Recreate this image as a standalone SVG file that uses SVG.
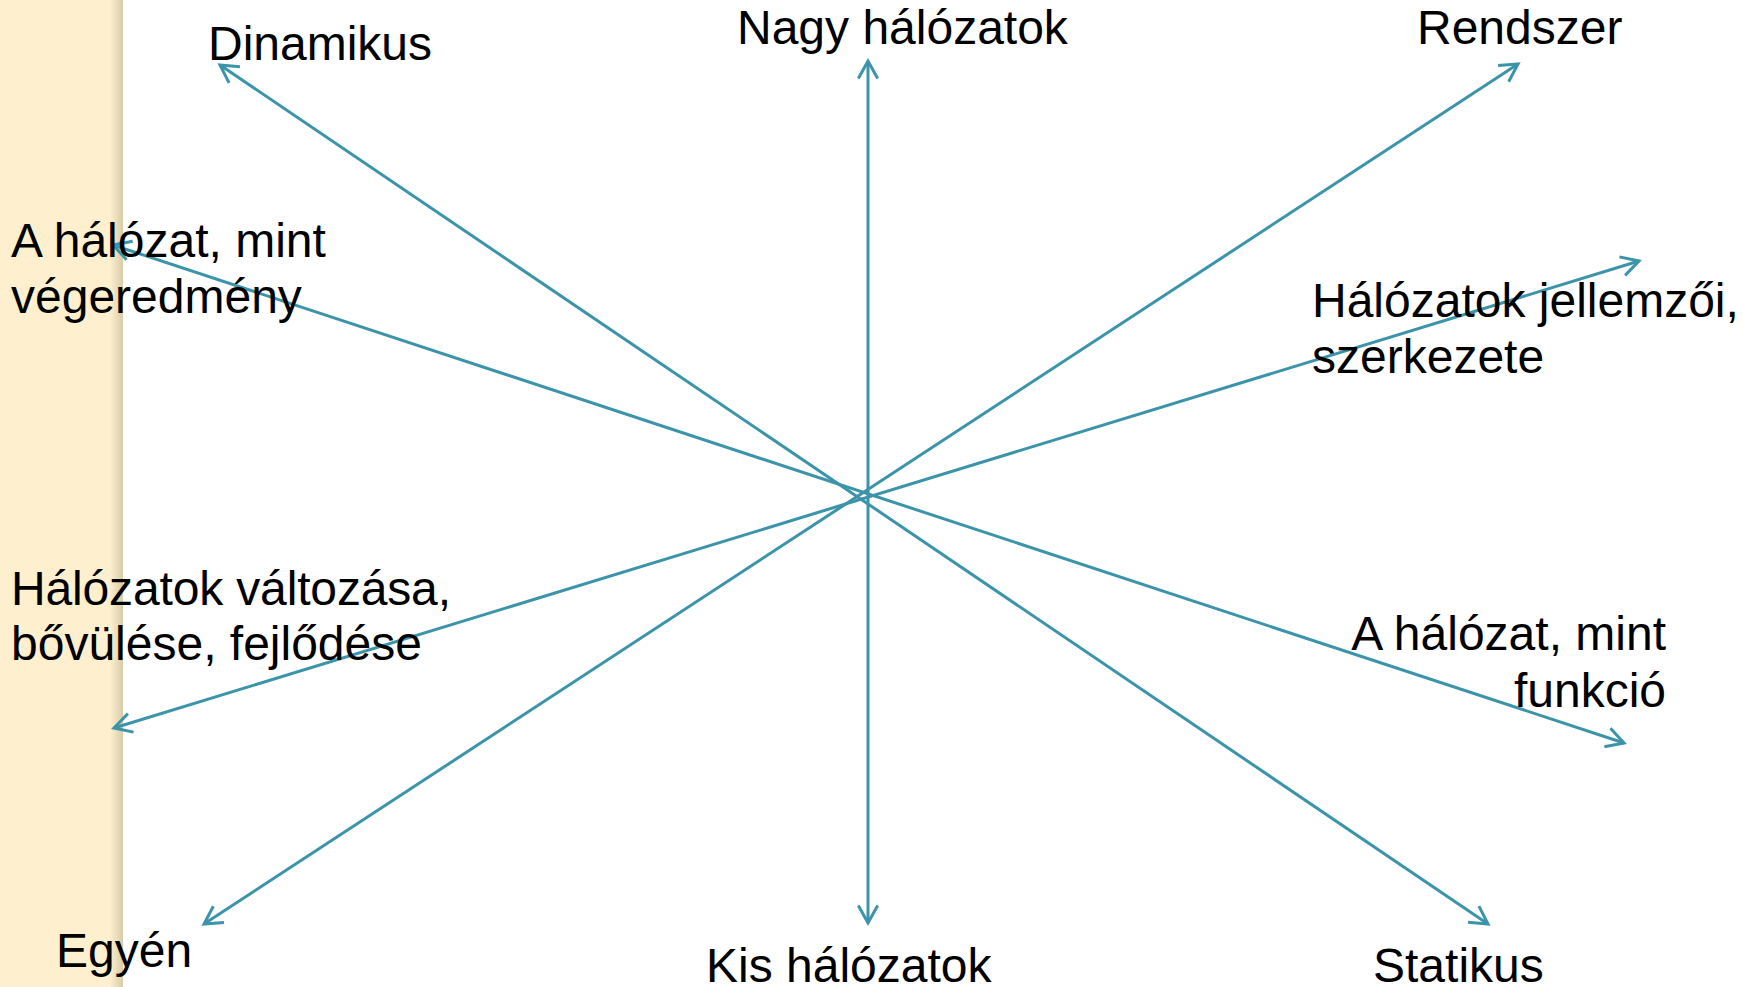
<svg xmlns="http://www.w3.org/2000/svg" width="1754" height="987" viewBox="0 0 1754 987">
  <defs>
    <linearGradient id="shadow" x1="0" y1="0" x2="1" y2="0">
      <stop offset="0" stop-color="#FDF0CE"/>
      <stop offset="1" stop-color="#D8CCA8"/>
    </linearGradient>
    <marker id="arr" markerUnits="userSpaceOnUse" viewBox="-24 -14 28 28" markerWidth="28" markerHeight="28" refX="0" refY="0" orient="auto-start-reverse">
      <path d="M -17.5 -9.7 L 0 0 L -17.5 9.7" fill="none" stroke="#3B94A9" stroke-width="3" stroke-linecap="butt" stroke-linejoin="miter"/>
    </marker>
  </defs>
  <style>
    .lbl { font-family: "Liberation Sans", Arial, sans-serif; font-size: 48px; fill: #000000; }
    .conn { stroke: #3B94A9; stroke-width: 3; fill: none; marker-start: url(#arr); marker-end: url(#arr); }
  </style>
  <rect x="0" y="0" width="1754" height="987" fill="#FFFFFF"/>
  <g id="sidebar">
    <rect x="0" y="0" width="123" height="987" fill="#FEF0CE"/>
    <rect x="110" y="0" width="13" height="987" fill="url(#shadow)"/>
  </g>
  <g id="connectors">
    <line class="conn" x1="220" y1="65" x2="1488" y2="924"/>
    <line class="conn" x1="868" y1="61" x2="868" y2="923"/>
    <line class="conn" x1="1518" y1="64" x2="204" y2="924"/>
    <line class="conn" x1="1639" y1="261" x2="114" y2="728"/>
    <line class="conn" x1="113" y1="245" x2="1624" y2="743"/>
  </g>
  <g id="dinamikus"><text class="lbl" x="208" y="60">Dinamikus</text></g>
  <g id="nagy"><text class="lbl" x="737" y="44">Nagy hálózatok</text></g>
  <g id="rendszer"><text class="lbl" x="1417" y="44">Rendszer</text></g>
  <g id="vegeredmeny">
    <text class="lbl" x="11" y="257">A hálózat, mint</text>
    <text class="lbl" x="11" y="313">végeredmény</text>
  </g>
  <g id="jellemzoi">
    <text class="lbl" x="1312" y="317">Hálózatok jellemzői,</text>
    <text class="lbl" x="1312" y="373">szerkezete</text>
  </g>
  <g id="valtozasa">
    <text class="lbl" x="11" y="605" textLength="440">Hálózatok változása,</text>
    <text class="lbl" x="11" y="660">bővülése, fejlődése</text>
  </g>
  <g id="funkcio">
    <text class="lbl" x="1666" y="650" text-anchor="end">A hálózat, mint</text>
    <text class="lbl" x="1666" y="707" text-anchor="end">funkció</text>
  </g>
  <g id="egyen"><text class="lbl" x="56" y="967">Egyén</text></g>
  <g id="kis"><text class="lbl" x="706" y="982">Kis hálózatok</text></g>
  <g id="statikus"><text class="lbl" x="1373" y="982">Statikus</text></g>
</svg>
